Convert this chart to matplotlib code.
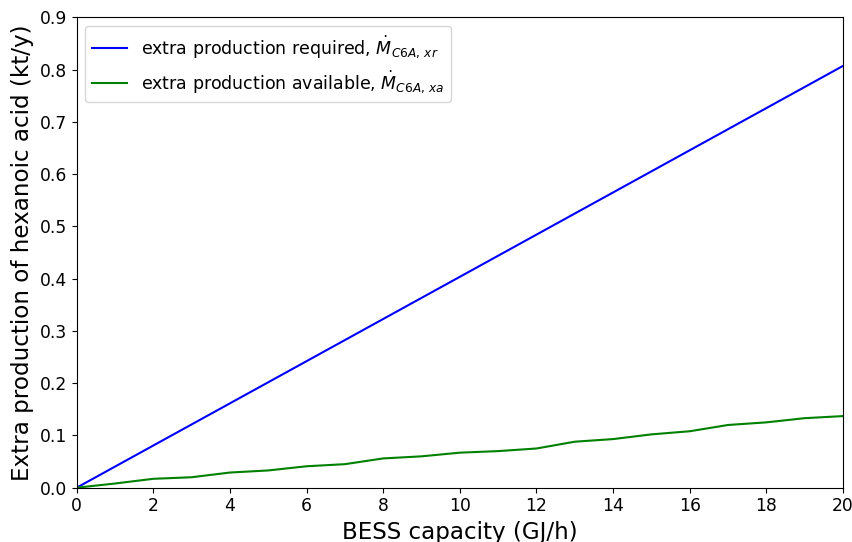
import matplotlib
matplotlib.use("Agg")
import matplotlib.pyplot as plt
import numpy as np

bess_capacity = list(range(0, 21))
required = [0.04035 * x for x in bess_capacity]
available = [0.0, 0.008, 0.017, 0.020, 0.029, 0.033, 0.041, 0.045, 0.056, 0.060,
             0.067, 0.070, 0.075, 0.088, 0.093, 0.102, 0.108, 0.120, 0.125, 0.133, 0.137]

fig = plt.figure(figsize=(8.53, 5.42), dpi=100)
ax = fig.add_axes([0.0899, 0.1002, 0.8984, 0.8679])
ax.plot(bess_capacity, required, color='blue', lw=1.5,
        label=r'extra production required, $\dot{M}_{C6A,\,xr}$')
ax.plot(bess_capacity, available, color='green', lw=1.5,
        label=r'extra production available, $\dot{M}_{C6A,\,xa}$')
ax.set_xlim(0, 20)
ax.set_ylim(0, 0.9)
ax.set_xticks(range(0, 21, 2))
ax.set_yticks(np.arange(0, 0.91, 0.1))
ax.tick_params(labelsize=12.3)
ax.set_xlabel('BESS capacity (GJ/h)', fontsize=16.6)
ax.set_ylabel('Extra production of hexanoic acid (kt/y)', fontsize=16.6)
ax.legend(loc='upper left', fontsize=12.5)
fig.savefig('out.png', dpi=100)
